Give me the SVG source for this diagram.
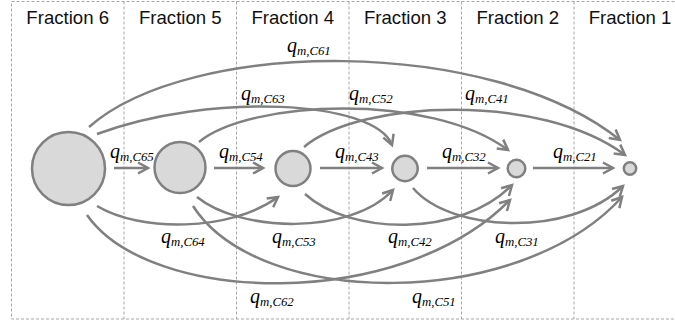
<svg xmlns="http://www.w3.org/2000/svg" width="675" height="322" viewBox="0 0 675 322">
<defs>
<marker id="ah" markerUnits="userSpaceOnUse" markerWidth="16" markerHeight="16" viewBox="-13 -8 16 16" refX="0" refY="0" orient="auto">
<path d="M-10,-5.5 L0,0 L-10,5.5" fill="none" stroke="#808080" stroke-width="2.5"/>
</marker>
</defs>
<style>
.grid{fill:none;stroke:#a6a6a6;stroke-width:1;stroke-dasharray:3 2}
.hdr{font-family:"Liberation Sans",Arial,sans-serif;font-size:18.6px;fill:#111;text-anchor:middle}
.node{fill:#d9d9d9;stroke:#808080;stroke-width:2.5}
.c{fill:none;stroke:#808080;stroke-width:2.5;marker-end:url(#ah)}
.lbl{font-family:"Liberation Serif","Times New Roman",serif;font-style:italic;font-size:20px;fill:#000}
.sub{font-size:12.8px}
</style>
<g id="frame">
<rect class="grid" x="11.5" y="1.5" width="680" height="317.5"/>
<line class="grid" x1="124" y1="1.5" x2="124" y2="319"/>
<line class="grid" x1="236.5" y1="1.5" x2="236.5" y2="319"/>
<line class="grid" x1="349" y1="1.5" x2="349" y2="319"/>
<line class="grid" x1="461.5" y1="1.5" x2="461.5" y2="319"/>
<line class="grid" x1="574" y1="1.5" x2="574" y2="319"/>
</g>
<g id="headers">
<text class="hdr" x="67.7" y="24">Fraction 6</text>
<text class="hdr" x="180.3" y="24">Fraction 5</text>
<text class="hdr" x="292.8" y="24">Fraction 4</text>
<text class="hdr" x="405.3" y="24">Fraction 3</text>
<text class="hdr" x="517.8" y="24">Fraction 2</text>
<text class="hdr" x="630" y="24">Fraction 1</text>
</g>
<g id="connectors">
<path class="c" d="M114,168 L148,168"/>
<path class="c" d="M214,168 L263,168"/>
<path class="c" d="M320,168 L382,168"/>
<path class="c" d="M427,168 L498,168"/>
<path class="c" d="M533,168 L613,168"/>
<path class="c" d="M89,127 C190,38 490,36 620,140"/>
<path class="c" d="M97,134 C210,92 375,100 392,145"/>
<path class="c" d="M199,142 C250,100 430,92 508,150"/>
<path class="c" d="M304,147 C360,100 540,92 625,155"/>
<path class="c" d="M97,206 C140,232 230,232 278,197"/>
<path class="c" d="M197,197 C240,232 350,236 393,190"/>
<path class="c" d="M305,194 C350,235 460,238 512,185"/>
<path class="c" d="M413,188 C450,232 570,238 623,186"/>
<path class="c" d="M87,215 C150,305 400,312 510,200"/>
<path class="c" d="M193,206 C260,310 520,310 622,197"/>
</g>
<g id="labels">
<text class="lbl" x="287" y="52">q<tspan class="sub" dy="3">m,C61</tspan></text>
<text class="lbl" x="241" y="100">q<tspan class="sub" dy="3">m,C63</tspan></text>
<text class="lbl" x="349" y="100">q<tspan class="sub" dy="3">m,C52</tspan></text>
<text class="lbl" x="465" y="100">q<tspan class="sub" dy="3">m,C41</tspan></text>
<text class="lbl" x="110" y="158">q<tspan class="sub" dy="3">m,C65</tspan></text>
<text class="lbl" x="219" y="158">q<tspan class="sub" dy="3">m,C54</tspan></text>
<text class="lbl" x="335" y="158">q<tspan class="sub" dy="3">m,C43</tspan></text>
<text class="lbl" x="442" y="158">q<tspan class="sub" dy="3">m,C32</tspan></text>
<text class="lbl" x="553" y="158">q<tspan class="sub" dy="3">m,C21</tspan></text>
<text class="lbl" x="161" y="243">q<tspan class="sub" dy="3">m,C64</tspan></text>
<text class="lbl" x="272" y="243">q<tspan class="sub" dy="3">m,C53</tspan></text>
<text class="lbl" x="388" y="243">q<tspan class="sub" dy="3">m,C42</tspan></text>
<text class="lbl" x="495" y="243">q<tspan class="sub" dy="3">m,C31</tspan></text>
<text class="lbl" x="250" y="303">q<tspan class="sub" dy="3">m,C62</tspan></text>
<text class="lbl" x="412" y="303">q<tspan class="sub" dy="3">m,C51</tspan></text>
</g>
<g id="node6"><circle class="node" cx="68.5" cy="168.5" r="36.5"/></g>
<g id="node5"><circle class="node" cx="180" cy="167.5" r="25.5"/></g>
<g id="node4"><circle class="node" cx="293" cy="168.5" r="17.5"/></g>
<g id="node3"><circle class="node" cx="405" cy="168.5" r="12.7"/></g>
<g id="node2"><circle class="node" cx="516.5" cy="168.5" r="8.8"/></g>
<g id="node1"><circle class="node" cx="630" cy="168.5" r="6.2"/></g>
</svg>
